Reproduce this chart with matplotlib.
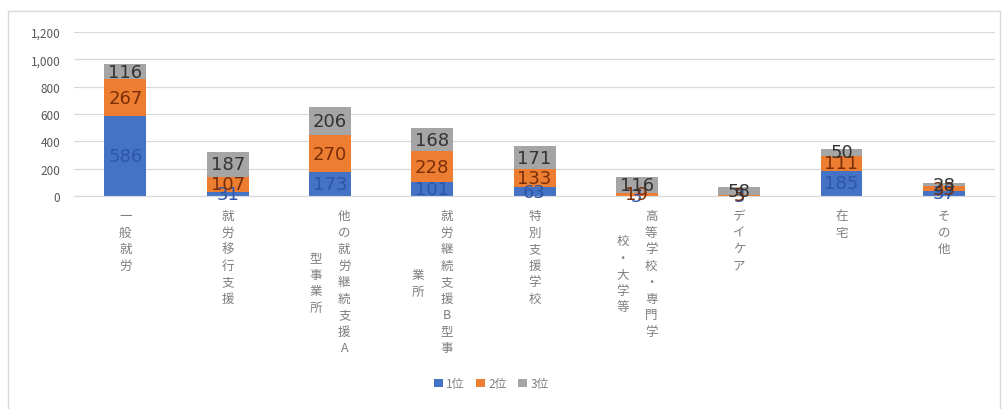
import numpy as np
import matplotlib.pyplot as plt
from matplotlib.patches import Rectangle
from matplotlib.transforms import ScaledTranslation

plt.rcParams['font.family'] = ['Noto Sans CJK JP', 'DejaVu Sans']

# 進路先ごとの順位別件数
categories = ['一般就労', '就労移行支援', '他の就労継続支援A型事業所', '就労継続支援B型事業所',
              '特別支援学校', '高等学校・専門学校・大学等', 'デイケア', '在宅', 'その他']
# 縦書きラベル（列ごと、右の列から）
label_cols = [['一般就労'], ['就労移行支援'], ['他の就労継続支援A', '型事業所'],
              ['就労継続支援B型事', '業所'], ['特別支援学校'],
              ['高等学校・専門学', '校・大学等'], ['デイケア'], ['在宅'], ['その他']]
rank1 = [586, 31, 173, 101, 63, 3, 3, 185, 37]
rank2 = [267, 107, 270, 228, 133, 19, 5, 111, 33]
rank3 = [116, 187, 206, 168, 171, 116, 58, 50, 28]
series_names = ['1位', '2位', '3位']

colors = ['#4472C4', '#ED7D31', '#A5A5A5']
label_colors = ['#2E56A8', '#7A2E08', '#333333']

fig = plt.figure(figsize=(10.03, 4.10), dpi=100)
ax = fig.add_axes([0.074, 0.5195, 0.918, 0.40])

x = np.arange(len(categories))
bottom = np.zeros(len(categories))
for vals, name, c, lc in zip([rank1, rank2, rank3], series_names, colors, label_colors):
    vals = np.array(vals)
    ax.bar(x, vals, width=0.41, bottom=bottom, color=c, label=name, zorder=2)
    for xi, b, v in zip(x, bottom, vals):
        ax.text(xi, b + v / 2, str(v), ha='center', va='center', fontsize=13,
                color=lc, zorder=3, family=['DejaVu Sans'])
    bottom += vals

ax.set_xlim(-0.5, len(categories) - 0.5)
ax.set_ylim(0, 1200)
ax.set_yticks(np.arange(0, 1201, 200))
ax.set_yticklabels([f'{v:,}' for v in range(0, 1201, 200)], fontsize=8.5, color='#595959')
ax.yaxis.grid(True, color='#D9D9D9', linewidth=0.9, zorder=0)
ax.set_axisbelow(True)
ax.tick_params(axis='y', length=0, pad=10)
ax.set_xticks([])
for s in ['top', 'right', 'left']:
    ax.spines[s].set_visible(False)
ax.spines['bottom'].set_color('#D9D9D9')

# 縦書きのカテゴリラベル（2列目は1列目の中央に揃える）
trans = ax.get_xaxis_transform()
col_gap = 0.28
fs, ls = 9, 1.35
line_pt = fs * ls
for xi, cols in zip(x, label_cols):
    n = len(cols)
    first_len = len(cols[0])
    for j, col in enumerate(cols):
        off = (n - 1) / 2 * col_gap - j * col_gap
        shift = (first_len - len(col)) / 2 * line_pt / 72
        t = trans + ScaledTranslation(0, -shift, fig.dpi_scale_trans)
        ax.text(xi + off, -0.08, '\n'.join(col), transform=t, ha='center', va='top',
                fontsize=fs, color='#7F7F7F', linespacing=ls)

fig.legend(loc='lower center', bbox_to_anchor=(0.49, 0.02), ncol=3, frameon=False,
           fontsize=8.5, handlelength=0.7, handleheight=0.7, handletextpad=0.3,
           columnspacing=1.0, labelcolor='#7F7F7F')

# グラフ枠
fig.patches.append(Rectangle((0.008, -0.01), 0.989, 0.98, transform=fig.transFigure,
                             fill=False, edgecolor='#D9D9D9', linewidth=1))

fig.savefig('out.png', dpi=100)
